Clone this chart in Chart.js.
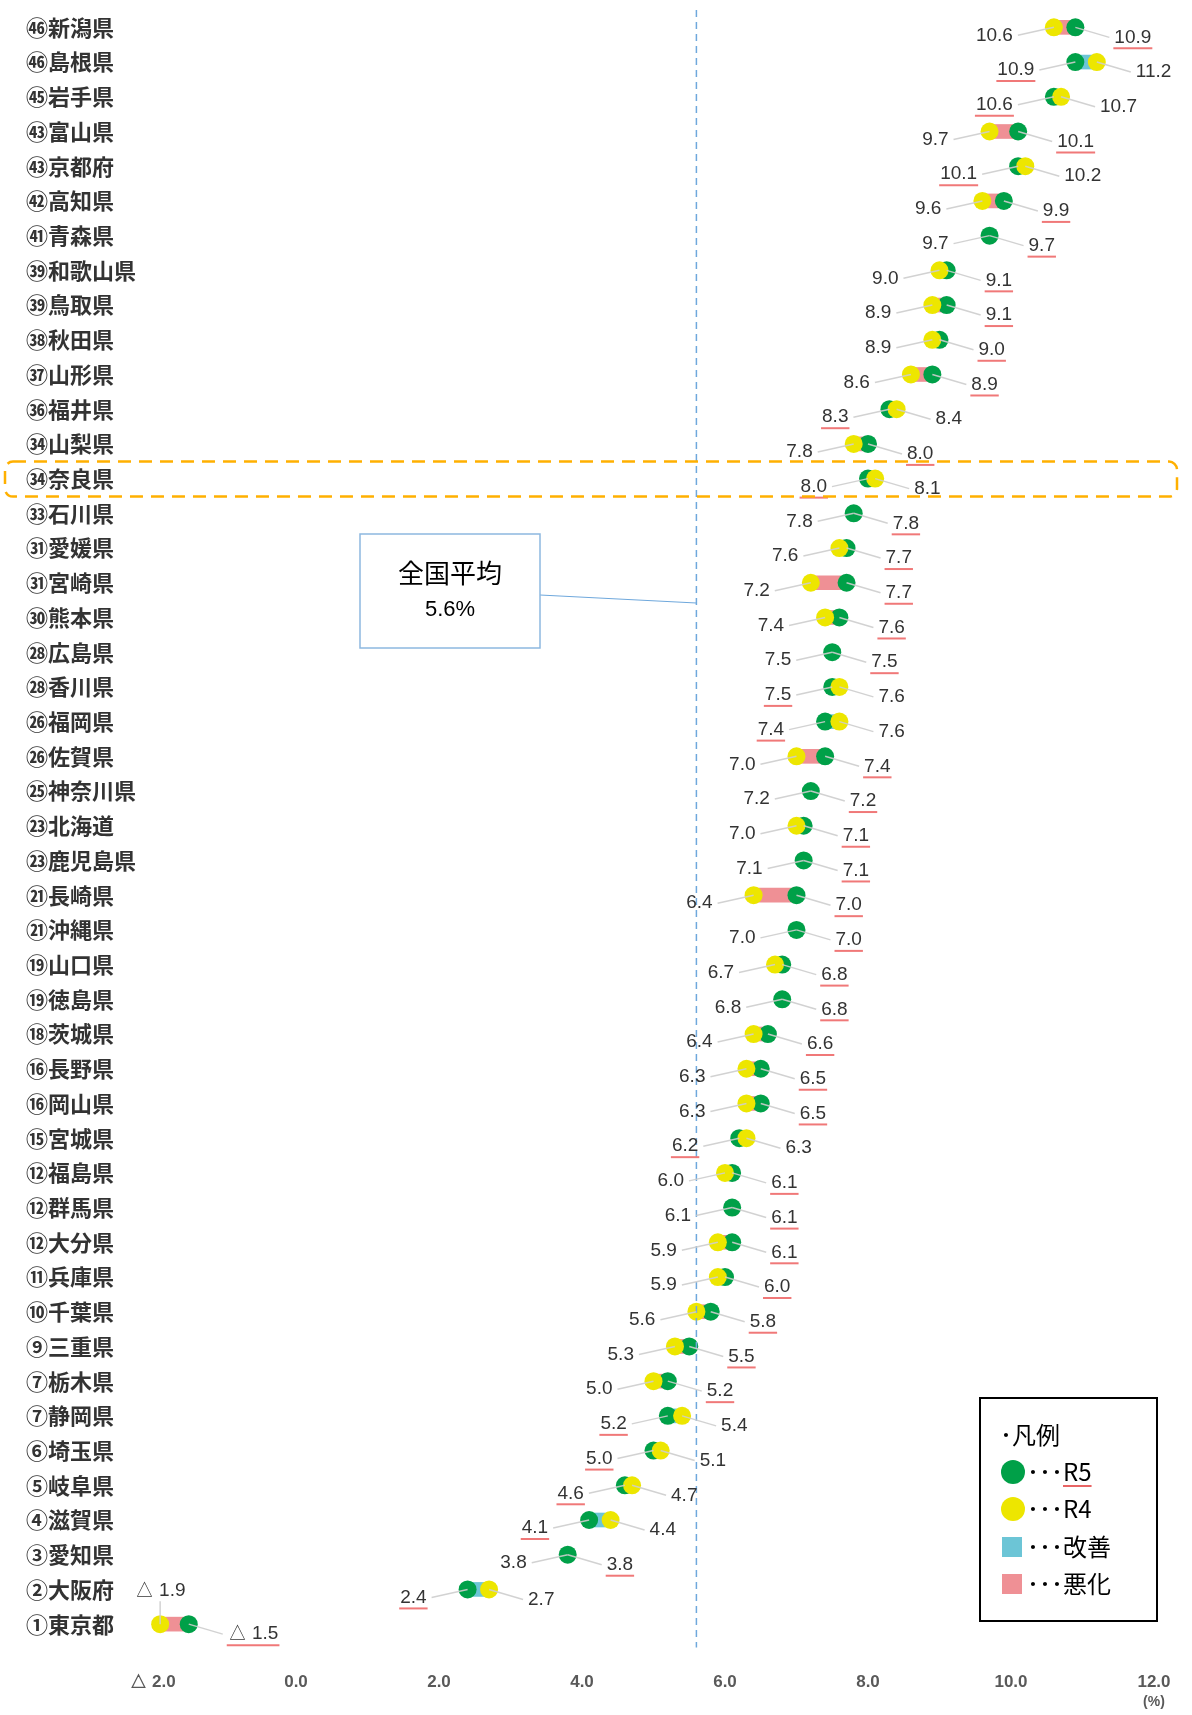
<!DOCTYPE html>
<html lang="ja">
<head>
<meta charset="utf-8">
<title>都道府県別 R5・R4 比較</title>
<script src="https://cdn.jsdelivr.net/npm/chart.js@4.4.1/dist/chart.umd.min.js"></script>
<style>
  html, body { margin: 0; padding: 0; background: #fff; }
  #wrap { position: relative; width: 1192px; height: 1715px; }
</style>
</head>
<body>
<div id="wrap"><canvas id="chart"></canvas></div>
<script>
// 都道府県（上から順）
const prefs = ['㊻新潟県', '㊻島根県', '㊺岩手県', '㊸富山県', '㊸京都府', '㊷高知県', '㊶青森県',
  '㊴和歌山県', '㊴鳥取県', '㊳秋田県', '㊲山形県', '㊱福井県', '㉞山梨県', '㉞奈良県', '㉝石川県',
  '㉛愛媛県', '㉛宮崎県', '㉚熊本県', '㉘広島県', '㉘香川県', '㉖福岡県', '㉖佐賀県', '㉕神奈川県',
  '㉓北海道', '㉓鹿児島県', '㉑長崎県', '㉑沖縄県', '⑲山口県', '⑲徳島県', '⑱茨城県', '⑯長野県',
  '⑯岡山県', '⑮宮城県', '⑫福島県', '⑫群馬県', '⑫大分県', '⑪兵庫県', '⑩千葉県', '⑨三重県',
  '⑦栃木県', '⑦静岡県', '⑥埼玉県', '⑤岐阜県', '④滋賀県', '③愛知県', '②大阪府', '①東京都'];

// R5 の値（%）
const r5 = [10.9, 10.9, 10.6, 10.1, 10.1, 9.9, 9.7, 9.1, 9.1, 9.0, 8.9, 8.3, 8.0, 8.0, 7.8,
  7.7, 7.7, 7.6, 7.5, 7.5, 7.4, 7.4, 7.2, 7.1, 7.1, 7.0, 7.0, 6.8, 6.8, 6.6, 6.5,
  6.5, 6.2, 6.1, 6.1, 6.1, 6.0, 5.8, 5.5, 5.2, 5.2, 5.0, 4.6, 4.1, 3.8, 2.4, -1.5];

// R4 の値（%）
const r4 = [10.6, 11.2, 10.7, 9.7, 10.2, 9.6, 9.7, 9.0, 8.9, 8.9, 8.6, 8.4, 7.8, 8.1, 7.8,
  7.6, 7.2, 7.4, 7.5, 7.6, 7.6, 7.0, 7.2, 7.0, 7.1, 6.4, 7.0, 6.7, 6.8, 6.4, 6.3,
  6.3, 6.3, 6.0, 6.1, 5.9, 5.9, 5.6, 5.3, 5.0, 5.4, 5.1, 4.7, 4.4, 3.8, 2.7, -1.9];

// 横軸の目盛り
const xMin = -2, xMax = 12, xStep = 2;
// 全国平均
const nationalAvg = 5.6;
// 強調する行（奈良県）
const highlightIndex = 13;

const GREEN = '#00a048';
const YELLOW = '#ede600';
const CYAN = '#6cc5d6';
const PINK = '#ef9095';
const UNDERLINE = '#f07878';

const fmt = v => v < 0 ? '△ ' + Math.abs(v).toFixed(1) : v.toFixed(1);

function drawValue(ctx, text, x, yc, align, underline) {
    ctx.textAlign = align;
    ctx.fillStyle = '#333';
    ctx.fillText(text, x, yc);
    if (underline) {
        const w = ctx.measureText(text).width;
        const x0 = align === 'right' ? x - w : align === 'center' ? x - w / 2 : x;
        ctx.strokeStyle = UNDERLINE;
        ctx.lineWidth = 2;
        ctx.beginPath();
        ctx.moveTo(x0 - 1, yc + 11);
        ctx.lineTo(x0 + w + 1, yc + 11);
        ctx.stroke();
    }
}

function leader(ctx, x1, y1, x2, y2) {
    ctx.strokeStyle = 'rgba(205,205,205,0.9)';
    ctx.lineWidth = 1.5;
    ctx.beginPath();
    ctx.moveTo(x1, y1);
    ctx.lineTo(x2, y2);
    ctx.stroke();
}

const overlay = {
    id: 'overlay',
    afterDatasetsDraw(chart) {
        const {ctx, chartArea: a, scales: {x, y}} = chart;
        ctx.save();

        // 全国平均の縦線
        const avgX = x.getPixelForValue(nationalAvg);
        ctx.strokeStyle = '#6fa8dc';
        ctx.lineWidth = 1.5;
        ctx.setLineDash([7, 5]);
        ctx.beginPath();
        ctx.moveTo(avgX, a.top);
        ctx.lineTo(avgX, a.bottom + 6);
        ctx.stroke();
        ctx.setLineDash([]);

        // 数値ラベル（R5 は下線付き）
        ctx.font = '19px "Liberation Sans", Arial, sans-serif';
        ctx.textBaseline = 'middle';
        prefs.forEach((p, i) => {
            const cy = y.getPixelForValue(i);
            const r5First = r5[i] < r4[i];
            const lo = r5First ? r5[i] : r4[i];
            const hi = r5First ? r4[i] : r5[i];
            const pLo = x.getPixelForValue(lo);
            const pHi = x.getPixelForValue(hi);

            const tLo = fmt(lo);
            const wLo = ctx.measureText(tLo).width;
            let xr = pLo - 9 - 32;
            if (xr - wLo < a.left) {
                const yc = cy - 33;
                leader(ctx, pLo, cy, pLo, yc + 10);
                drawValue(ctx, tLo, pLo, yc, 'center', r5First);
            } else {
                const yc = cy + 8;
                leader(ctx, pLo, cy, xr + 5, yc);
                drawValue(ctx, tLo, xr, yc, 'right', r5First);
            }

            const tHi = fmt(hi);
            const xl = pHi + 9 + 30;
            const yc2 = cy + 10;
            leader(ctx, pHi, cy, xl - 5, yc2);
            drawValue(ctx, tHi, xl, yc2, 'left', !r5First);
        });

        // 奈良県の枠
        const ny = y.getPixelForValue(highlightIndex);
        ctx.strokeStyle = '#ffb000';
        ctx.lineWidth = 2.5;
        ctx.setLineDash([13, 8]);
        ctx.beginPath();
        ctx.roundRect(5, ny - 17, 1172, 35, 8);
        ctx.stroke();
        ctx.setLineDash([]);

        // 全国平均の吹き出し
        ctx.strokeStyle = '#6fa8dc';
        ctx.lineWidth = 1.2;
        ctx.beginPath();
        ctx.moveTo(540, 595);
        ctx.lineTo(avgX, 603);
        ctx.stroke();
        ctx.fillStyle = '#fff';
        ctx.fillRect(360, 534, 180, 114);
        ctx.strokeStyle = '#8db8e0';
        ctx.lineWidth = 1.5;
        ctx.strokeRect(360, 534, 180, 114);
        ctx.fillStyle = '#000';
        ctx.textAlign = 'center';
        ctx.font = '26px "Noto Sans CJK JP", sans-serif';
        ctx.fillText('全国平均', 450, 573);
        ctx.font = '22px "Liberation Sans", Arial, sans-serif';
        ctx.fillText(nationalAvg.toFixed(1) + '%', 450, 610);

        // (%)
        ctx.fillStyle = '#595959';
        ctx.font = 'bold 14px "Liberation Sans", Arial, sans-serif';
        ctx.fillText('(%)', x.getPixelForValue(xMax), 1702);

        // 凡例
        ctx.fillStyle = '#fff';
        ctx.fillRect(980, 1398, 177, 223);
        ctx.strokeStyle = '#000';
        ctx.lineWidth = 2;
        ctx.strokeRect(980, 1398, 177, 223);
        ctx.fillStyle = '#000';
        ctx.textAlign = 'left';
        ctx.font = '24px "Noto Sans CJK JP", sans-serif';
        ctx.fillText('･凡例', 1000, 1435);

        const rows = [1472, 1509, 1547, 1584];
        ctx.fillStyle = GREEN;
        ctx.beginPath(); ctx.arc(1013, rows[0], 12, 0, Math.PI * 2); ctx.fill();
        ctx.fillStyle = YELLOW;
        ctx.beginPath(); ctx.arc(1013, rows[1], 12, 0, Math.PI * 2); ctx.fill();
        ctx.fillStyle = CYAN;
        ctx.fillRect(1002, rows[2] - 10, 20, 20);
        ctx.fillStyle = PINK;
        ctx.fillRect(1002, rows[3] - 10, 20, 20);

        ctx.fillStyle = '#000';
        const dots = '･･･';
        const dw = ctx.measureText(dots).width;
        ctx.fillText(dots + 'R5', 1027, rows[0]);
        const w5 = ctx.measureText('R5').width;
        ctx.strokeStyle = '#e03030';
        ctx.lineWidth = 1.5;
        ctx.beginPath();
        ctx.moveTo(1027 + dw, rows[0] + 14);
        ctx.lineTo(1027 + dw + w5, rows[0] + 14);
        ctx.stroke();
        ctx.fillText(dots + 'R4', 1027, rows[1]);
        ctx.fillText(dots + '改善', 1027, rows[2]);
        ctx.fillText(dots + '悪化', 1027, rows[3]);

        ctx.restore();
    }
};

new Chart(document.getElementById('chart'), {
    type: 'bar',
    data: {
        labels: prefs,
        datasets: [
            {
                // R4 の点（R5 と同値のときは R5 のみ表示）
                type: 'line',
                label: 'R4',
                data: r4,
                indexAxis: 'y',
                showLine: false,
                pointRadius: ctx => r4[ctx.dataIndex] === r5[ctx.dataIndex] ? 0 : 9,
                pointBackgroundColor: YELLOW,
                pointBorderWidth: 0,
                clip: false,
                order: 1
            },
            {
                type: 'line',
                label: 'R5',
                data: r5,
                indexAxis: 'y',
                showLine: false,
                pointRadius: 9,
                pointBackgroundColor: GREEN,
                pointBorderWidth: 0,
                clip: false,
                order: 2
            },
            {
                // R4→R5 の変化幅
                label: '変化',
                data: prefs.map((p, i) => [Math.min(r5[i], r4[i]), Math.max(r5[i], r4[i])]),
                backgroundColor: ctx => {
                    const i = ctx.dataIndex;
                    if (r5[i] < r4[i]) return CYAN;
                    if (r5[i] > r4[i]) return PINK;
                    return 'rgba(0,0,0,0)';
                },
                barThickness: 14,
                borderSkipped: false,
                clip: false,
                order: 3
            }
        ]
    },
    options: {
        indexAxis: 'y',
        responsive: true,
        maintainAspectRatio: false,
        animation: false,
        devicePixelRatio: 1,
        layout: {
            padding: {left: 26, right: 38, top: 10, bottom: 0}
        },
        plugins: {
            legend: {display: false},
            tooltip: {enabled: false}
        },
        scales: {
            x: {
                type: 'linear',
                position: 'bottom',
                min: xMin,
                max: xMax,
                grid: {display: false, drawTicks: false},
                border: {display: false},
                ticks: {
                    stepSize: xStep,
                    padding: 31,
                    color: '#595959',
                    font: {family: '"Liberation Sans", Arial, sans-serif', size: 17, weight: 'bold'},
                    callback: v => fmt(v)
                },
                afterFit: s => {
                    s.height = 73.5;
                    s.paddingLeft = 0;
                    s.paddingRight = 0;
                }
            },
            y: {
                type: 'category',
                offset: true,
                grid: {display: false, drawTicks: false},
                border: {display: false},
                ticks: {
                    autoSkip: false,
                    crossAlign: 'far',
                    padding: 0,
                    color: '#333',
                    font: {family: '"Noto Sans CJK JP", sans-serif', size: 22, weight: 'bold'}
                },
                afterFit: s => {
                    s.width = 127;
                    s.paddingTop = 0;
                    s.paddingBottom = 0;
                }
            }
        }
    },
    plugins: [overlay]
});
</script>
</body>
</html>
